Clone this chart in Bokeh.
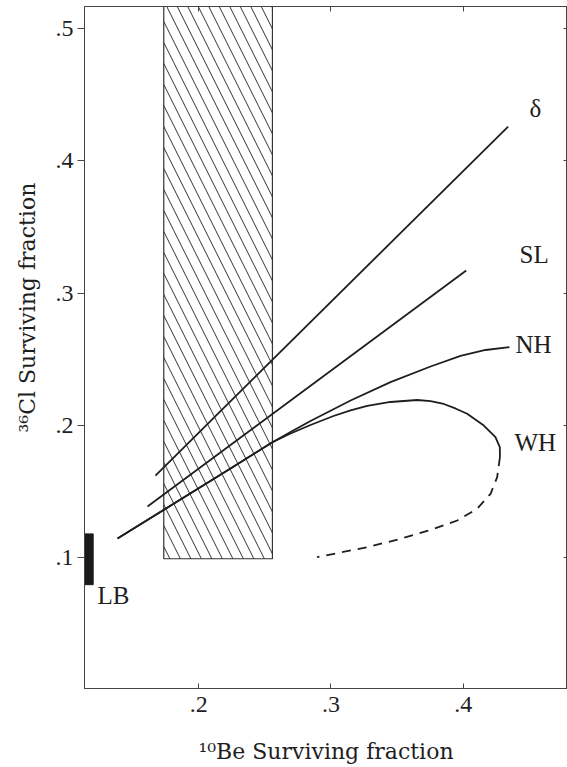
from bokeh.plotting import figure
from bokeh.models import Range1d, FixedTicker, LinearAxis, Label, Title
from bokeh.embed import file_html
from bokeh.resources import INLINE

# ---- data ----
x_tick_values = [0.2, 0.3, 0.4]
x_tick_labels = [".2", ".3", ".4"]
y_tick_values = [0.1, 0.2, 0.3, 0.4, 0.5]
y_tick_labels = [".1", ".2", ".3", ".4", ".5"]

x_title = "\u00b9\u2070Be Surviving fraction"   # 10Be
y_title = "\u00b3\u2076Cl Surviving fraction"   # 36Cl

delta_x = [0.1672, 0.4340]
delta_y = [0.1621, 0.4259]
sl_x = [0.1612, 0.4023]
sl_y = [0.1387, 0.3171]
nh_x = [0.1385, 0.2240, 0.2557, 0.2694, 0.2845, 0.3148, 0.3450, 0.3753,
        0.3980, 0.4169, 0.4350]
nh_y = [0.1145, 0.1674, 0.1873, 0.1950, 0.2033, 0.2188, 0.2327, 0.2445,
        0.2525, 0.2570, 0.2591]
wh_x = [0.1385, 0.2240, 0.2557, 0.2694, 0.2845, 0.3019, 0.3148, 0.3274,
        0.3450, 0.3652, 0.3753, 0.3853, 0.3941, 0.4030, 0.4156, 0.4244,
        0.4277, 0.4278]
wh_y = [0.1145, 0.1674, 0.1873, 0.1939, 0.2003, 0.2071, 0.2113, 0.2147,
        0.2177, 0.2192, 0.2184, 0.2162, 0.2128, 0.2088, 0.1999, 0.1911,
        0.1835, 0.1760]
wh_dash_x = [0.4278, 0.4257, 0.4207, 0.4106, 0.3955, 0.3778, 0.3526, 0.3274, 0.2894]
wh_dash_y = [0.1760, 0.1609, 0.1483, 0.1370, 0.1281, 0.1218, 0.1143, 0.1079, 0.1004]

box_left = [0.1735]
box_right = [0.2557]
box_bottom = [0.0992]
box_top = [0.60]

lb_left = [0.1135]
lb_right = [0.1201]
lb_bottom = [0.0796]
lb_top = [0.1180]

curve_names = ["δ", "SL", "NH", "WH", "LB"]
label_x = [0.4547, 0.4426, 0.4396, 0.4388, 0.1234]
label_y = [0.4395, 0.3292, 0.2611, 0.1871, 0.0714]
label_align = ["center", "left", "left", "left", "left"]

XMIN, XMAX = 0.11354, 0.47890
YMIN, YMAX = 0.00113, 0.51663

FONT = "Liberation Serif"
TITLE_FONT = "DejaVu Serif"
INK = "#1e1e1e"
FRAME = "#444444"

p = figure(frame_width=483, frame_height=682, output_backend="svg",
           toolbar_location=None,
           x_range=Range1d(XMIN, XMAX), y_range=Range1d(YMIN, YMAX),
           min_border_left=84, min_border_right=0, min_border_top=6,
           min_border_bottom=79, x_axis_location=None, y_axis_location=None)
p.grid.visible = False
p.outline_line_color = FRAME
p.background_fill_color = "white"
p.border_fill_color = "white"

xt = FixedTicker(ticks=x_tick_values)
yt = FixedTicker(ticks=y_tick_values)


def style(ax, tin, tout):
    ax.axis_line_color = FRAME
    ax.major_tick_line_color = FRAME
    ax.minor_tick_line_color = None
    ax.major_tick_in = tin
    ax.major_tick_out = tout
    ax.major_label_text_font = FONT
    ax.major_label_text_font_size = "24px"
    ax.major_label_text_color = INK


def mute(ax, ticks):
    ax.major_label_overrides = {t: "" for t in ticks}
    ax.major_label_text_font_size = "0px"
    ax.major_label_text_color = None
    ax.major_label_standoff = 0


bottom = LinearAxis(ticker=xt,
                    major_label_overrides=dict(zip(x_tick_values, x_tick_labels)))
style(bottom, 5, 0)
bottom.major_label_standoff = 8
bottom.axis_label = x_title
bottom.axis_label_text_font = TITLE_FONT
bottom.axis_label_text_font_size = "22px"
bottom.axis_label_text_font_style = "normal"
bottom.axis_label_text_color = INK
bottom.axis_label_standoff = 24
p.add_layout(bottom, "below")

left = LinearAxis(ticker=yt,
                  major_label_overrides=dict(zip(y_tick_values, y_tick_labels)))
style(left, 0, 7)
left.major_label_standoff = 4
p.add_layout(left, "left")

right = LinearAxis(ticker=yt)
style(right, 4, 0)
mute(right, y_tick_values)
p.add_layout(right, "right")

top = LinearAxis(ticker=xt)
style(top, 5, 0)
mute(top, x_tick_values)
p.add_layout(top, "above")

# y axis title (shifted along the axis as in the reference)
p.add_layout(Title(text=y_title, text_font=TITLE_FONT, text_font_size="22px",
                   text_font_style="normal", text_color=INK, align="left",
                   offset=256, standoff=25), "left")

# hatched range box
p.quad(left=box_left, right=box_right, bottom=box_bottom, top=box_top,
       fill_color=None, line_color="#333333", line_width=1.2,
       hatch_pattern="\\", hatch_scale=21, hatch_weight=1, hatch_color="#333333")

# LB bar
p.quad(left=lb_left, right=lb_right, bottom=lb_bottom, top=lb_top,
       fill_color="#1a1a1a", line_color="#1a1a1a")

# curves
p.line(delta_x, delta_y, line_color=INK, line_width=1.8)
p.line(sl_x, sl_y, line_color=INK, line_width=1.8)
p.line(nh_x, nh_y, line_color=INK, line_width=1.8)
p.line(wh_x, wh_y, line_color=INK, line_width=1.8)
p.line(wh_dash_x, wh_dash_y, line_color=INK, line_width=1.8, line_dash="9 7")

# curve labels
for name, lx, ly, al in zip(curve_names, label_x, label_y, label_align):
    p.add_layout(Label(x=lx, y=ly, text=name, text_font=FONT,
                       text_font_size="25px", text_color=INK,
                       text_align=al, text_baseline="alphabetic"))

open("out.html", "w").write(file_html(p, INLINE))
